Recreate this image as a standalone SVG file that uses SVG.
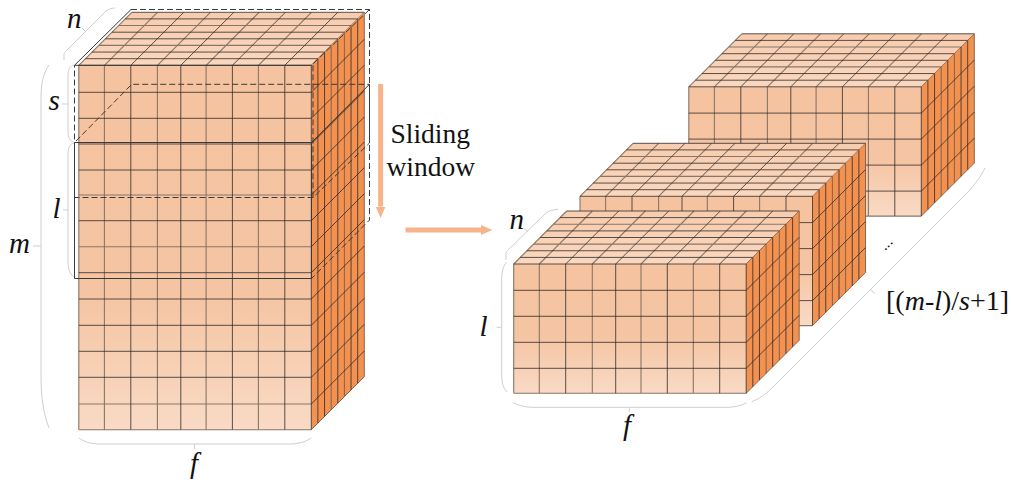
<svg xmlns="http://www.w3.org/2000/svg" xmlns:xlink="http://www.w3.org/1999/xlink" width="1011" height="484" viewBox="0 0 1011 484">
<style>
.d{fill:none;stroke:#2e2b29;stroke-width:.8}
.g{fill:none;stroke:#8a7666;stroke-width:1.1}
.sg{fill:none;stroke:#7d5c42;stroke-width:.9}
.w{fill:none;stroke:#3a3a3a;stroke-width:1}
.wd{fill:none;stroke:#3a3a3a;stroke-width:1;stroke-dasharray:6 3}
.b{fill:none;stroke:#cfcfcf;stroke-width:1}
.t{font-family:"Liberation Serif","Times New Roman",serif;font-size:27.5px;fill:#111}
.i{font-style:italic;font-size:29px}
.a{fill:none;stroke:#f7b48a}
</style>
<defs>
<linearGradient id="fr" x1="0" y1="0" x2="0" y2="1"><stop offset="0" stop-color="#f5c3a0"/><stop offset=".62" stop-color="#f5c4a2"/><stop offset="1" stop-color="#f9dac5"/></linearGradient>
<linearGradient id="fr5" x1="0" y1="0" x2="0" y2="1"><stop offset="0" stop-color="#f5c3a0"/><stop offset=".55" stop-color="#f5c4a2"/><stop offset="1" stop-color="#f9dac5"/></linearGradient>
<linearGradient id="tp" x1="0" y1="0" x2="0" y2="1"><stop offset="0" stop-color="#f8ccae"/><stop offset="1" stop-color="#fad7bf"/></linearGradient>
<marker id="ah" markerUnits="userSpaceOnUse" markerWidth="12" markerHeight="12" refX="0" refY="6" orient="auto"><path d="M0 1L11.5 6L0 11Z" fill="#f7b48a"/></marker>
<g id="top">
<path d="M0 0H232.5L285.5-53H53Z" fill="url(#tp)"/>
<path class="g" d="M0 0l53-53M25.6 0l53-53M78.6 0l53-53M127.3 0l53-53M179.6 0l53-53M19.9-19.9h232.5M39.75-39.75h232.5"/>
<path class="d" d="M52 0l53-53M102 0l53-53M153.6 0l53-53M206 0l53-53M232.5 0l53-53M6.6-6.6h232.5M13.25-13.25h232.5M26.5-26.5h232.5M33.1-33.1h232.5M46.4-46.4h232.5M53-53h232.5"/>
</g>
<g id="b5">
<use xlink:href="#top" href="#top"/>
<rect x="0" y="0" width="232.5" height="129.3" fill="url(#fr5)"/>
<path d="M232.5 0L285.5-53V76.3L232.5 129.3Z" fill="#f39150"/>
<path class="g" d="M0 0V129.3M25.6 0V129.3M78.6 0V129.3M127.3 0V129.3M179.6 0V129.3M0 129.3H232.5"/>
<path class="sg" d="M252.4-19.9v129.3M265.6-33.1v129.3M285.5-53v129.3M232.5 129.3l53-53"/>
<path class="d" d="M52 0V129.3M102 0V129.3M153.6 0V129.3M206 0V129.3M232.5 0V129.3M0 0H232.5M0 26.3H232.5M0 52.3H232.5M0 78.3H232.5M0 104.3H232.5M239.1-6.6v129.3M245.75-13.25v129.3M259-26.5v129.3M272.25-39.75v129.3M278.9-46.4v129.3M232.5 26.3l53-53M232.5 52.3l53-53M232.5 78.3l53-53M232.5 104.3l53-53"/>
</g>
</defs>

<g id="braces">
<path class="b" d="M49 65C44 72 41 82 41 98V375C41 400 44 415 49 428M41 246H33"/>
<path class="b" d="M74 65C70 66 68 69 68 76V131C68 138 70 141 74 142M68 104H62"/>
<path class="b" d="M74 143C70 144 68 147 68 154V262C68 270 71 275 74 277M68 210H63"/>
<path class="b" d="M64 60V55C64 53 65 52 66 51L106 11C109 9 112 8 115 8M85 31L82 28"/>
<path class="b" d="M79 438C83 441 90 444 100 444H290C300 444 307 441 311 438M194.5 444V449"/>
<path class="b" d="M506.7 262C503 266 501.7 272 501.7 280V374C501.7 382 503 388 507 392M501.7 327.3H496.7"/>
<path class="b" d="M506 260V254C506 252 507 251 508 250L546 213C549 211 553 209.5 558 209.3M524 228.3L527.7 231.7"/>
<path class="b" d="M513.3 402.7C518 405 524 407.3 533 407.3H727C736 407.3 742 405 746.7 402.7M629.3 407.3V412"/>
<path class="b" d="M751.7 401.7C759 399 766 394 773 387L964 196C973 187 980 178 985 168M870.7 290L875 293.3"/>
</g>

<g id="block-left" transform="translate(78.8 65.3)">
<use xlink:href="#top" href="#top"/>
<rect x="0" y="0" width="232.5" height="364.4" fill="url(#fr)"/>
<path d="M232.5 0L285.5-53V311.4L232.5 364.4Z" fill="#f39150"/>
<path class="g" d="M0 0V364.4M25.6 0V364.4M78.6 0V364.4M127.3 0V364.4M179.6 0V364.4M0 129.7H232.5M0 181.4H232.5M0 338.7H232.5M0 364.4H232.5"/>
<path class="sg" d="M252.4-19.9v364.4M265.6-33.1v364.4M285.5-53v364.4M232.5 364.4l53-53"/>
<path class="d" d="M52 0V364.4M102 0V364.4M153.6 0V364.4M206 0V364.4M232.5 0V364.4M0 0H232.5M0 27H232.5M0 53H232.5M0 78.7H232.5M0 104.7H232.5M0 155.4H232.5M0 207.4H232.5M0 233.7H232.5M0 260H232.5M0 286H232.5M0 312H232.5M239.1-6.6v364.4M245.75-13.25v364.4M259-26.5v364.4M272.25-39.75v364.4M278.9-46.4v364.4M232.5 27l53-53M232.5 53l53-53M232.5 78.7l53-53M232.5 104.7l53-53M232.5 129.7l53-53M232.5 155.4l53-53M232.5 181.4l53-53M232.5 207.4l53-53M232.5 233.7l53-53M232.5 260l53-53M232.5 286l53-53M232.5 312l53-53M232.5 338.7l53-53"/>
</g>

<g id="window-1">
<path class="w" d="M74.5 65.3H311.5M74.5 65.3L131 9.5"/>
<path class="wd" d="M131 9.5H369.5V143L313 197.5H74.5V65.3M369.5 9.5L311.5 65.3M313 65.3V197.5"/>
</g>
<g id="window-2">
<path class="w" d="M74.5 142.5H311.5L369.5 84.3M74.5 142.5V278.5H311.5V142.5"/>
<path class="wd" d="M76 141L131.7 84.3H369.5V220L311.5 278.5H74.5"/>
</g>

<g id="block-back" transform="translate(688.8 86.8)"><use xlink:href="#b5" href="#b5"/></g>
<g id="block-mid" transform="translate(580 196.3)"><use xlink:href="#b5" href="#b5"/></g>
<g id="block-front" transform="translate(513.7 264)"><use xlink:href="#b5" href="#b5"/></g>

<g id="connectors">
<line class="a" x1="380.6" y1="84" x2="380.6" y2="206.5" stroke-width="5" marker-end="url(#ah)"/>
<line class="a" x1="405.5" y1="230" x2="481" y2="230" stroke-width="5" marker-end="url(#ah)"/>
</g>

<g id="labels">
<text class="t i" x="67" y="28">n</text>
<text class="t i" x="48.5" y="110">s</text>
<text class="t i" x="52.5" y="218">l</text>
<text class="t i" x="9" y="253">m</text>
<text class="t i" x="190" y="473">f</text>
<text class="t" x="390.5" y="142.5">Sliding</text>
<text class="t" x="386.5" y="176">window</text>
<text class="t i" x="509.5" y="229">n</text>
<text class="t i" x="479.5" y="336">l</text>
<text class="t i" x="623" y="435">f</text>
<text class="t" x="886" y="310" style="font-size:28px">[(<tspan class="i" style="font-size:28px">m</tspan>-<tspan class="i" style="font-size:28px">l</tspan>)/<tspan class="i" style="font-size:28px">s</tspan>+1]</text>
<text class="t" transform="translate(885 251) rotate(-45)" style="font-size:16px">...</text>
</g>
</svg>
